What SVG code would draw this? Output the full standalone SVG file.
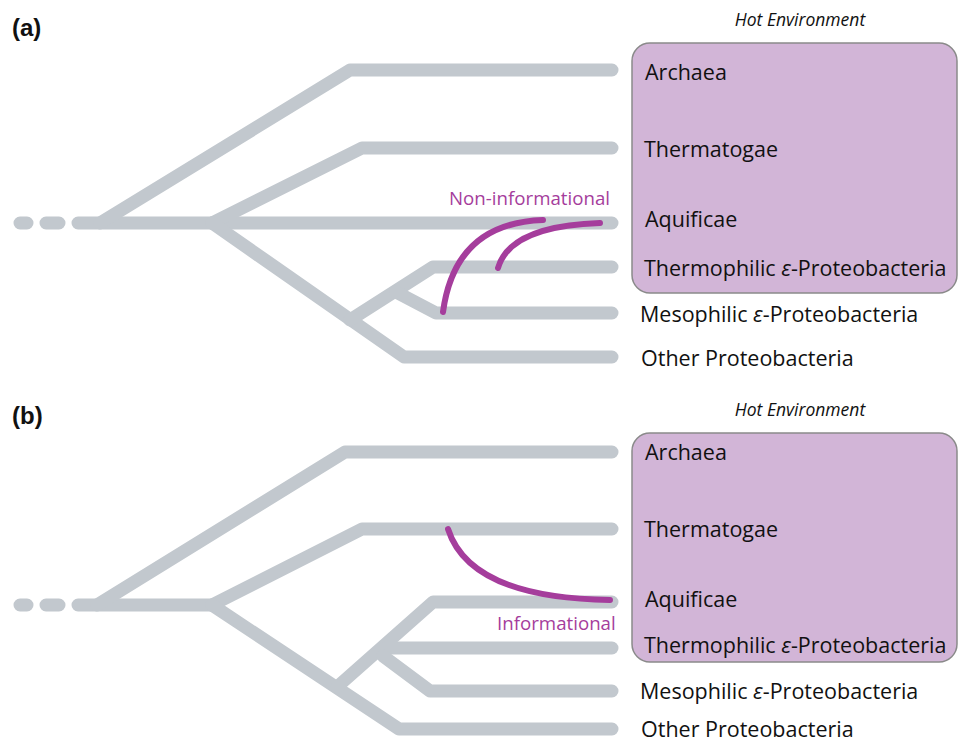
<svg xmlns="http://www.w3.org/2000/svg" width="959" height="744" viewBox="0 0 959 744">
<style>
.br{fill:none;stroke:#c2c8ce;stroke-width:13;stroke-linecap:round;stroke-linejoin:round}
.hgt{fill:none;stroke:#a53d9c;stroke-width:6;stroke-linecap:round}
.box{fill:#d2b5d7;stroke:#8a8a8a;stroke-width:1.5}
.lab{font-family:"Open Sans","Liberation Sans",sans-serif;font-size:21.5px;fill:#111}
.env{font-family:"Open Sans","Liberation Sans",sans-serif;font-size:17.5px;font-style:italic;fill:#111}
.pan{font-family:"Liberation Sans",Arial,sans-serif;font-size:24px;font-weight:bold;fill:#111}
.hl{font-family:"Open Sans","Liberation Sans",sans-serif;font-size:18.7px;fill:#a53d9c}
</style>
<g id="panel-a">
<text class="pan" x="12" y="36">(a)</text>
<text class="env" x="800" y="26" text-anchor="middle">Hot Environment</text>
<g id="a-box"><rect class="box" x="632" y="43" width="325" height="250" rx="18"/></g>
<g id="a-tree">
<path class="br" d="M20 223H27M46 223H59M78 223H612"/>
<path class="br" d="M100 223L350 70H612"/>
<path class="br" d="M212 223L362 148H612"/>
<path class="br" d="M212 223L404 357H612"/>
<path class="br" d="M350 320L433 267H612"/>
<path class="br" d="M396 292L436 313H612"/>
</g>
<g id="a-labels">
<text class="lab" x="645" y="80">Archaea</text>
<text class="lab" x="644" y="157">Thermatogae</text>
<text class="lab" x="645" y="227">Aquificae</text>
<text class="lab" x="644" y="276">Thermophilic <tspan font-style="italic">ε</tspan>-Proteobacteria</text>
<text class="lab" x="640" y="322">Mesophilic <tspan font-style="italic">ε</tspan>-Proteobacteria</text>
<text class="lab" x="641" y="366">Other Proteobacteria</text>
</g>
<g id="a-transfers">
<text class="hl" x="449" y="205">Non-informational</text>
<path class="hgt" d="M543 220Q455 223 443 312"/>
<path class="hgt" d="M600 223Q510 226 498 268"/>
</g>
</g>
<g id="panel-b">
<text class="pan" x="12" y="424">(b)</text>
<text class="env" x="800" y="416" text-anchor="middle">Hot Environment</text>
<g id="b-box"><rect class="box" x="632" y="433" width="325" height="229" rx="18"/></g>
<g id="b-tree">
<path class="br" d="M20 605H27M46 605H59M78 605H212"/>
<path class="br" d="M97 605L345 452H612"/>
<path class="br" d="M212 605L362 529H612"/>
<path class="br" d="M212 605L399 729H612"/>
<path class="br" d="M337 687L433 602H612"/>
<path class="br" d="M385 648H612"/>
<path class="br" d="M383 656L430 691H612"/>
</g>
<g id="b-labels">
<text class="lab" x="645" y="460">Archaea</text>
<text class="lab" x="644" y="537">Thermatogae</text>
<text class="lab" x="645" y="607">Aquificae</text>
<text class="lab" x="644" y="653">Thermophilic <tspan font-style="italic">ε</tspan>-Proteobacteria</text>
<text class="lab" x="640" y="699">Mesophilic <tspan font-style="italic">ε</tspan>-Proteobacteria</text>
<text class="lab" x="641" y="737">Other Proteobacteria</text>
</g>
<g id="b-transfers">
<path class="hgt" d="M448 529Q470 598 610 600"/>
<text class="hl" x="497" y="630">Informational</text>
</g>
</g>
</svg>
